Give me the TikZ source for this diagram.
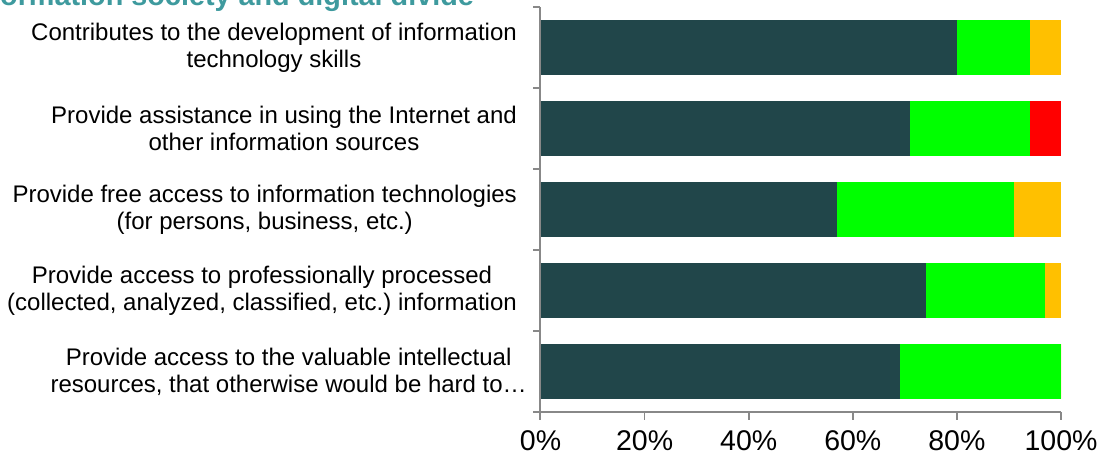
\documentclass[tikz,border=0pt]{standalone}
\usepackage{fontspec}
\setmainfont{Liberation Sans}
\definecolor{barDark}{HTML}{21464A}
\definecolor{barGreen}{HTML}{00FF00}
\definecolor{barOrange}{HTML}{FFC000}
\definecolor{barRed}{HTML}{FF0000}
\definecolor{axisGray}{HTML}{888888}
\definecolor{titleTeal}{HTML}{3E9A9E}
\tikzset{
  axisline/.style={draw=axisGray, line width=1.6pt},
  catlabel/.style={anchor=east, align=center, inner sep=0pt, font=\fontsize{24}{27}\selectfont},
  ticklabel/.style={anchor=center, inner sep=0pt, font=\fontsize{28.5}{32}\selectfont},
}
\frenchspacing
\begin{document}
\begin{tikzpicture}[x=1pt,y=-1pt]
\useasboundingbox (0,0) rectangle (1098,467);
\clip (0,0) rectangle (1098,467);
\fill[white] (0,0) rectangle (1098,467);
% title (cut off at top)
\node[anchor=base west, inner sep=0pt, text=titleTeal, font=\fontsize{28.8}{32}\selectfont\bfseries] (title) at (0,5) {ormation society and digital divide};
% bars: x0 = 540.5, scale 5.205 per percent
\def\xz{540.5}
\def\sc{5.205}
\foreach \i/\a/\b/\c/\col in {0/80/94/100/barOrange, 1/71/94/100/barRed, 2/57/91/100/barOrange, 3/74/97/100/barOrange, 4/69/100/100/barOrange}{
  \pgfmathsetmacro{\ytop}{20+81*\i}
  \pgfmathsetmacro{\ybot}{\ytop+54.5}
  \pgfmathsetmacro{\xa}{\xz+\sc*\a}
  \pgfmathsetmacro{\xb}{\xz+\sc*\b}
  \pgfmathsetmacro{\xc}{\xz+\sc*\c}
  \fill[barDark] (\xz,\ytop) rectangle (\xa,\ybot);
  \fill[barGreen] (\xa,\ytop) rectangle (\xb,\ybot);
  \fill[\col] (\xb,\ytop) rectangle (\xc,\ybot);
}
% axes
\draw[axisline] (540,7) -- (540,420);
\draw[axisline] (533,412) -- (1061,412);
\foreach \k in {0,...,4}{
  \pgfmathsetmacro{\yk}{7+81*\k}
  \draw[axisline] (533,\yk) -- (540,\yk);
}
\foreach \k/\lab in {0/0\%,1/20\%,2/40\%,3/60\%,4/80\%,5/100\%}{
  \pgfmathsetmacro{\xk}{\xz+104.1*\k}
  \draw[axisline] (\xk,412) -- (\xk,420);
  \node[ticklabel] (tick\k) at (\xk,441) {\lab};
}
% category labels
\node[catlabel] (lab1) at (517,47.5) {Contributes to the development of information\\technology skills};
\node[catlabel] (lab2) at (517,128.5) {Provide assistance in using the Internet and\\other information sources};
\node[catlabel] (lab3) at (517,209.5) {Provide free access to information technologies\\(for persons, business, etc.)};
\node[catlabel] (lab4) at (517,290.5) {Provide access to professionally processed\\(collected, analyzed, classified, etc.)\ information};
\node[catlabel] (lab5) at (527,371.5) {Provide access to the valuable intellectual\\resources, that otherwise would be hard to…};
\end{tikzpicture}
\end{document}
